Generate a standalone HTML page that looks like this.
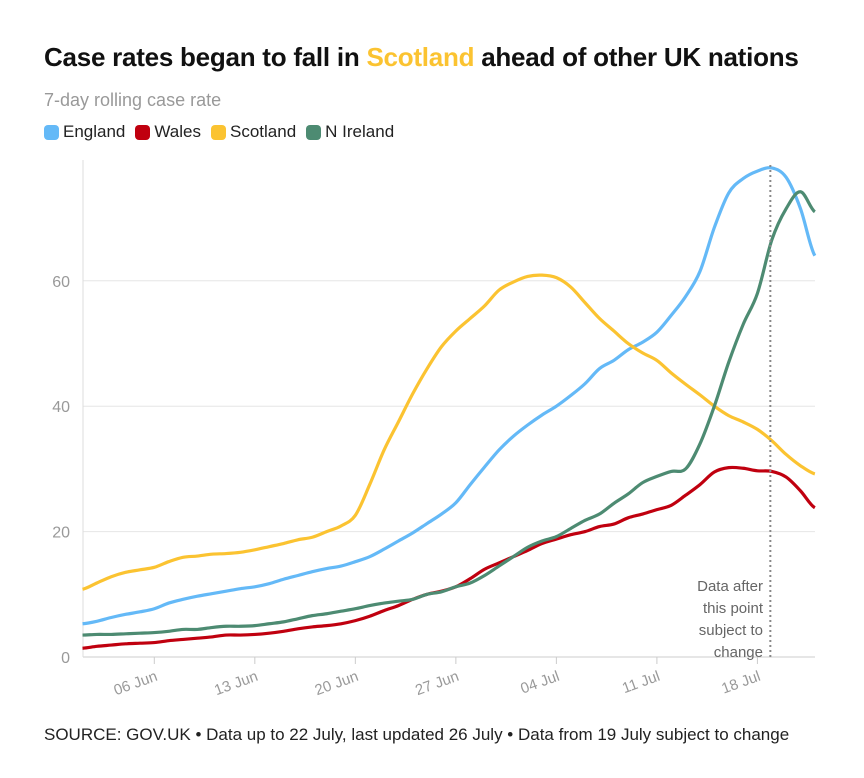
<!DOCTYPE html>
<html><head><meta charset="utf-8"><style>
body{margin:0;background:#fff;width:864px;height:778px;overflow:hidden;font-family:"Liberation Sans",sans-serif;}
.t{position:absolute;left:44px;top:42px;font-size:26px;font-weight:bold;color:#111;letter-spacing:-0.25px}
.s{position:absolute;left:44px;top:90px;font-size:18px;color:#999}
.lg{position:absolute;left:44px;top:122px;font-size:17px;color:#222;display:flex;gap:0}
.lg span{display:flex;align-items:center;margin-right:10px}
.lg i{display:inline-block;width:15px;height:15px;border-radius:4px;margin-right:4px}
.src{position:absolute;left:44px;top:725px;font-size:17px;color:#222}
</style></head><body>
<div class="t">Case rates began to fall in <span style="color:#fbc331">Scotland</span> ahead of other UK nations</div>
<div class="s">7-day rolling case rate</div>
<div class="lg">
<span><i style="background:#64b9f7"></i>England</span>
<span><i style="background:#c0000f"></i>Wales</span>
<span><i style="background:#fbc331"></i>Scotland</span>
<span><i style="background:#4d8b72"></i>N Ireland</span>
</div>
<svg id="c" width="864" height="778" style="position:absolute;left:0;top:0"></svg>
<div class="src">SOURCE: GOV.UK • Data up to 22 July, last updated 26 July • Data from 19 July subject to change</div>
<script>
const england=[5.3,5.7,6.3,6.8,7.2,7.7,8.6,9.2,9.7,10.1,10.5,10.9,11.2,11.7,12.4,13.0,13.6,14.1,14.5,15.2,16.0,17.2,18.5,19.8,21.3,22.8,24.6,27.5,30.3,33.0,35.2,37.0,38.6,40.0,41.7,43.6,46.0,47.3,49.0,50.2,51.8,54.5,57.5,61.5,68.5,74.0,76.3,77.5,78.0,76.5,71.5,64.0];
const scotland=[10.8,11.8,12.8,13.5,13.9,14.3,15.2,15.9,16.1,16.4,16.5,16.7,17.1,17.6,18.1,18.7,19.1,20.0,20.9,22.6,27.5,33,37.5,42,46,49.5,52,54,56,58.5,59.8,60.7,60.9,60.5,59,56.5,54,52,50,48.5,47.3,45.3,43.5,41.8,40.0,38.5,37.5,36.3,34.5,32.3,30.5,29.2];
const wales=[1.4,1.7,1.9,2.1,2.2,2.3,2.6,2.8,3.0,3.2,3.5,3.5,3.6,3.8,4.1,4.5,4.8,5.0,5.3,5.8,6.5,7.4,8.2,9.2,10.0,10.5,11.2,12.5,14.0,15.0,16.0,17.0,18.1,18.8,19.5,20.0,20.8,21.2,22.2,22.8,23.5,24.2,25.8,27.5,29.5,30.2,30.1,29.7,29.6,28.7,26.5,23.8];
const nireland=[3.5,3.6,3.6,3.7,3.8,3.9,4.1,4.4,4.4,4.7,4.9,4.9,5.0,5.3,5.6,6.1,6.6,6.9,7.3,7.7,8.2,8.6,8.9,9.2,10.0,10.4,11.2,11.8,13.0,14.5,16.0,17.5,18.5,19.2,20.5,21.8,22.8,24.5,26.0,27.8,28.8,29.6,30.0,34.0,40.0,47.0,53.0,58.0,66.5,71.5,74.2,71.0];
const yTicks=[0,20,40,60];
const xTickLabels=["06 Jun","13 Jun","20 Jun","27 Jun","04 Jul","11 Jul","18 Jul"];
const xTickDays=[5,12,19,26,33,40,47];
const cutoffDay=47.9;
const NS="http://www.w3.org/2000/svg";
const svg=document.getElementById('c');
const x=d=>82.5+d*14.36;
const y=v=>657-v*6.27;
function mk(t,a){const e=document.createElementNS(NS,t);for(const k in a)e.setAttribute(k,a[k]);svg.appendChild(e);return e;}
yTicks.forEach(v=>{
 const l=mk('line',{x1:83,x2:815,y1:y(v),y2:y(v),stroke:v?'#e6e6e6':'#ccc','stroke-width':1});
 
 
 const t=mk('text',{x:70,y:y(v)+6,'text-anchor':'end','font-size':16,fill:'#999','font-family':'Liberation Sans'});
 t.textContent=v;
 
 
});
const ya=mk('line',{x1:83,x2:83,y1:160,y2:657,stroke:'#ddd'});


xTickDays.forEach((d,i)=>{
 const tk=mk('line',{x1:x(d),x2:x(d),y1:657,y2:664,stroke:'#ccc'});
 
 
 const t=mk('text',{x:x(d)+4,y:680,'text-anchor':'end','font-size':15,fill:'#999','font-family':'Liberation Sans',transform:`rotate(-20 ${x(d)+4} 680)`});
 t.textContent=xTickLabels[i];
 
 
});
function line(arr,col,name){
 let d='';
 for(let i=0;i<arr.length;i++){
  const px=x(i),py=y(arr[i]);
  if(i===0){d+=`M${px},${py}`;continue;}
  const p0=arr[Math.max(i-2,0)],p1=arr[i-1],p2=arr[i],p3=arr[Math.min(i+1,arr.length-1)];
  const x1=x(i-1)+14.36/3,y1=y(p1+(p2-p0)/6),x2=px-14.36/3,y2=y(p2-(p3-p1)/6);
  d+=`C${x1},${y1} ${x2},${y2} ${px},${py}`;
 }
 const p=mk('path',{d,fill:'none',stroke:col,'stroke-width':3.2,'stroke-linejoin':'round'});
 
 
}
line(england,'#64b9f7','england-line');
line(scotland,'#fbc331','scotland-line');
line(wales,'#c0000f','wales-line');
line(nireland,'#4d8b72','n-ireland-line');
const cl=mk('line',{x1:x(cutoffDay),x2:x(cutoffDay),y1:165,y2:657,stroke:'#888','stroke-width':2,'stroke-dasharray':'2,3'});


["Data after","this point","subject to","change"].forEach((s,i)=>{
 const t=mk('text',{x:763,y:591+i*22,'text-anchor':'end','font-size':15,fill:'#666','font-family':'Liberation Sans'});
 t.textContent=s;
 
 
});
</script>
</body></html>
